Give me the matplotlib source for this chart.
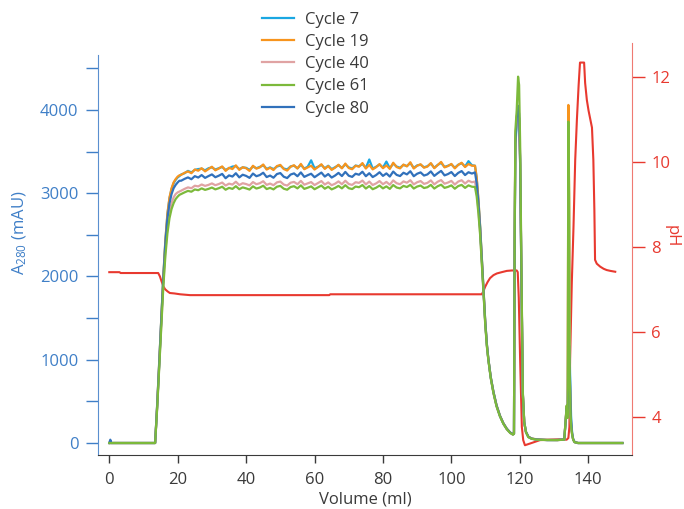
import matplotlib
matplotlib.use("Agg")
import matplotlib.pyplot as plt
from matplotlib.ticker import MultipleLocator

plt.rcParams['font.family'] = ['Open Sans', 'DejaVu Sans']
plt.rcParams['mathtext.fontset'] = 'custom'
plt.rcParams['mathtext.rm'] = 'Open Sans'
plt.rcParams['mathtext.it'] = 'Open Sans:italic'

# ---- data ----
cycles = ['Cycle 7', 'Cycle 19', 'Cycle 40', 'Cycle 61', 'Cycle 80']
colors = ['#1aa7e2', '#f7941d', '#e0a3a3', '#7cb93b', '#3171bb']

# loading phase
vol_rise = [0, 0.3, 0.6, 13.4, 14.0, 14.6, 15.2, 15.8, 16.4, 17.0, 17.6, 18.2, 18.8, 19.4, 20.0, 20.5]
rise_c7 = [0, 0, 0, 0, 460, 965, 1495, 2000, 2430, 2750, 2940, 3050, 3120, 3160, 3190, 3205]
rise_c19 = [0, 0, 0, 0, 460, 970, 1500, 2010, 2440, 2760, 2950, 3060, 3130, 3170, 3200, 3215]
rise_c40 = [0, 0, 0, 0, 430, 920, 1430, 1920, 2310, 2590, 2770, 2880, 2950, 2990, 3010, 3020]
rise_c61 = [0, 0, 0, 0, 420, 900, 1400, 1880, 2250, 2520, 2700, 2810, 2880, 2930, 2960, 2980]
rise_c80 = [0, 40, 0, 0, 450, 950, 1480, 1980, 2400, 2700, 2880, 2990, 3060, 3100, 3130, 3150]

# plateau, one reading per ml from 21 to 106 ml
vol_plateau = list(range(21, 107))
plat_c7 = [3225, 3240, 3268, 3250, 3280, 3290, 3295, 3275, 3300, 3310,
           3285, 3300, 3315, 3280, 3300, 3320, 3325, 3290, 3310, 3305,
           3280, 3320, 3300, 3316, 3336, 3292, 3310, 3290, 3320, 3332,
           3296, 3286, 3322, 3330, 3300, 3340, 3296, 3318, 3395, 3300,
           3318, 3340, 3300, 3330, 3290, 3312, 3336, 3304, 3346, 3310,
           3296, 3332, 3324, 3352, 3304, 3405, 3296, 3318, 3344, 3308,
           3380, 3300, 3356, 3320, 3306, 3340, 3326, 3362, 3304, 3334,
           3342, 3312, 3324, 3356, 3306, 3340, 3364, 3316, 3330, 3346,
           3306, 3342, 3360, 3320, 3385, 3336]
plat_c19 = [3220, 3245, 3262, 3240, 3285, 3270, 3300, 3262, 3290, 3318,
            3275, 3296, 3322, 3268, 3305, 3290, 3335, 3280, 3312, 3300,
            3268, 3330, 3295, 3310, 3345, 3284, 3306, 3278, 3326, 3340,
            3290, 3272, 3318, 3336, 3296, 3352, 3288, 3310, 3330, 3284,
            3314, 3348, 3292, 3326, 3280, 3306, 3342, 3298, 3356, 3302,
            3288, 3330, 3318, 3362, 3296, 3340, 3286, 3312, 3350, 3300,
            3334, 3292, 3366, 3314, 3298, 3344, 3322, 3372, 3296, 3330,
            3348, 3306, 3320, 3362, 3300, 3338, 3376, 3310, 3326, 3352,
            3298, 3340, 3366, 3314, 3350, 3330]
plat_c40 = [3030, 3052, 3070, 3060, 3090, 3082, 3105, 3088, 3100, 3118,
            3096, 3110, 3128, 3092, 3115, 3104, 3138, 3098, 3120, 3110,
            3094, 3134, 3108, 3120, 3144, 3100, 3116, 3096, 3130, 3140,
            3104, 3092, 3126, 3136, 3108, 3148, 3102, 3118, 3134, 3098,
            3122, 3146, 3104, 3130, 3096, 3114, 3142, 3108, 3150, 3110,
            3100, 3132, 3124, 3152, 3106, 3140, 3098, 3118, 3146, 3108,
            3136, 3102, 3154, 3120, 3108, 3142, 3126, 3156, 3106, 3132,
            3146, 3112, 3124, 3154, 3106, 3138, 3158, 3114, 3128, 3148,
            3104, 3140, 3156, 3116, 3150, 3132]
plat_c61 = [2990, 3010, 3028, 3018, 3045, 3036, 3058, 3040, 3052, 3068,
            3046, 3060, 3078, 3042, 3064, 3052, 3084, 3048, 3070, 3058,
            3044, 3082, 3056, 3068, 3090, 3050, 3064, 3046, 3078, 3088,
            3054, 3042, 3074, 3084, 3058, 3094, 3052, 3066, 3082, 3048,
            3070, 3092, 3054, 3078, 3046, 3064, 3088, 3058, 3096, 3060,
            3050, 3080, 3072, 3098, 3056, 3086, 3048, 3066, 3092, 3058,
            3082, 3052, 3098, 3068, 3058, 3088, 3074, 3100, 3056, 3080,
            3092, 3062, 3072, 3100, 3056, 3084, 3102, 3064, 3076, 3094,
            3054, 3086, 3100, 3064, 3094, 3078]
plat_c80 = [3150, 3172, 3190, 3168, 3205, 3188, 3218, 3184, 3206, 3226,
            3192, 3210, 3232, 3180, 3214, 3200, 3240, 3190, 3222, 3208,
            3184, 3236, 3204, 3218, 3246, 3194, 3212, 3186, 3230, 3242,
            3198, 3182, 3224, 3238, 3204, 3250, 3196, 3216, 3234, 3192,
            3220, 3248, 3200, 3230, 3188, 3212, 3244, 3206, 3256, 3210,
            3196, 3234, 3222, 3258, 3204, 3240, 3194, 3218, 3252, 3208,
            3238, 3200, 3260, 3220, 3206, 3246, 3226, 3264, 3204, 3234,
            3250, 3212, 3226, 3262, 3208, 3240, 3268, 3214, 3230, 3254,
            3206, 3244, 3266, 3218, 3252, 3236]

# wash, elution, strip, re-equilibration
vol_tail = [106.9, 107.4, 107.9, 108.4, 108.9, 109.4, 109.9, 110.4, 110.8, 111.5,
            112.3, 113.2, 114.2, 115.2, 116.2, 117.2, 118.0, 118.3, 118.5, 118.7,
            119.1, 119.5, 119.8, 120.1, 120.5, 120.9, 121.3, 121.8, 122.5, 123.5,
            125.0, 128.0, 131.0, 133.0, 133.4, 133.7, 134.0, 134.2, 134.4, 134.6,
            134.8, 135.0, 135.3, 135.6, 136.0, 137.0, 143.0, 150.0]
tail_c7 = [3330, 3180, 2920, 2600, 2210, 1840, 1455, 1175, 1012, 792,
           612, 452, 326, 236, 170, 125, 105, 112, 2380, 3550,
           3850, 3980, 3900, 3350, 1880, 570, 245, 132, 74, 52,
           42, 36, 36, 42, 270, 430, 330, 1500, 900, 1000,
           650, 300, 120, 45, 12, 0, 0, 0]
tail_c19 = [3330, 3190, 2930, 2610, 2215, 1845, 1460, 1178, 1014, 794,
            614, 454, 328, 238, 172, 126, 106, 114, 2420, 3620,
            3920, 4020, 3880, 3350, 1890, 575, 248, 134, 76, 54,
            44, 38, 36, 42, 270, 440, 330, 4060, 3100, 850,
            420, 210, 105, 45, 12, 0, 0, 0]
tail_c40 = [3140, 3020, 2800, 2530, 2170, 1810, 1430, 1155, 1002, 782,
            602, 442, 322, 232, 166, 121, 101, 110, 2450, 3650,
            3880, 4000, 3900, 3450, 1950, 590, 250, 132, 72, 51,
            41, 35, 35, 41, 275, 440, 310, 3600, 2900, 780,
            390, 195, 100, 42, 10, 0, 0, 0]
tail_c61 = [3075, 2960, 2760, 2500, 2150, 1800, 1420, 1150, 1000, 780,
            600, 440, 320, 230, 165, 120, 100, 110, 2500, 3750,
            4000, 4400, 4300, 3600, 2000, 600, 250, 130, 70, 50,
            40, 35, 35, 40, 280, 450, 300, 3860, 3000, 800,
            400, 200, 100, 40, 10, 0, 0, 0]
tail_c80 = [3250, 3120, 2880, 2580, 2200, 1830, 1450, 1170, 1010, 790,
            610, 450, 325, 235, 170, 125, 105, 112, 2400, 3600,
            3900, 4050, 3950, 3400, 1900, 580, 250, 135, 75, 52,
            42, 36, 36, 42, 260, 420, 320, 900, 1170, 900,
            500, 250, 110, 45, 12, 0, 0, 0]

# pH trace
vol_ph = [0, 3.0, 3.3, 14.3, 14.8, 15.3, 15.8, 16.3, 17.0, 17.7,
          19.0, 20.7, 23.6, 64.3, 64.6, 108.9, 109.4, 109.9, 110.6, 111.3,
          112.3, 113.3, 114.7, 116.2, 117.7, 119.1, 119.4, 119.7, 120.1, 120.6,
          121.0, 121.5, 123.0, 125.9, 131.8, 133.7, 134.2, 134.5, 134.7, 135.2,
          135.7, 136.2, 136.7, 137.2, 137.6, 138.8, 139.1, 139.6, 140.1, 140.6,
          141.1, 141.5, 141.8, 142.0, 142.5, 143.5, 144.5, 145.4, 146.5, 147.9]
ph = [7.40, 7.40, 7.38, 7.38, 7.30, 7.18, 7.07, 7.00, 6.95, 6.91,
      6.90, 6.88, 6.86, 6.86, 6.88, 6.88, 6.96, 7.06, 7.17, 7.26,
      7.33, 7.37, 7.40, 7.43, 7.44, 7.44, 7.40, 6.80, 5.33, 3.76,
      3.45, 3.33, 3.37, 3.45, 3.47, 3.46, 3.50, 3.76, 5.33, 7.14,
      8.47, 10.04, 11.00, 11.80, 12.33, 12.33, 11.85, 11.45, 11.20, 11.00,
      10.80, 10.04, 8.86, 7.69, 7.60, 7.53, 7.48, 7.45, 7.43, 7.41]

blue = '#3f7fc7'
red = '#e8392f'
dark = '#3a3a3a'

fig = plt.figure(figsize=(6.84, 5.09), dpi=100)
ax = fig.add_axes([98 / 684, 1 - 455 / 509, (632 - 98) / 684, (455 - 43) / 509])
ax2 = ax.twinx()
ax.set_zorder(ax2.get_zorder() + 1)
ax.patch.set_visible(False)

vol_all = vol_rise + vol_plateau + vol_tail
series = {
    'Cycle 7': rise_c7 + plat_c7 + tail_c7,
    'Cycle 19': rise_c19 + plat_c19 + tail_c19,
    'Cycle 40': rise_c40 + plat_c40 + tail_c40,
    'Cycle 61': rise_c61 + plat_c61 + tail_c61,
    'Cycle 80': rise_c80 + plat_c80 + tail_c80,
}
handles = {}
for name in ['Cycle 7', 'Cycle 19', 'Cycle 40', 'Cycle 80', 'Cycle 61']:
    c = colors[cycles.index(name)]
    line, = ax.plot(vol_all, series[name], color=c, lw=1.6, label=name)
    handles[name] = line

ax2.plot(vol_ph, ph, color=red, lw=1.5)

ax.set_xlim(-3.3, 152.8)
ax.set_ylim(-144, 4804)
ax2.set_ylim(3.10, 12.79)

ax.set_xticks([0, 20, 40, 60, 80, 100, 120, 140])
ax.set_yticks([0, 1000, 2000, 3000, 4000])
ax.yaxis.set_minor_locator(MultipleLocator(500))
ax2.set_yticks([4, 6, 8, 10, 12])

for s in ['top', 'right']:
    ax.spines[s].set_visible(False)
for s in ['top', 'left', 'bottom']:
    ax2.spines[s].set_visible(False)
ax.spines['left'].set_color('#5a8fcf')
ax.spines['left'].set_bounds(-144, 4660)
ax.spines['bottom'].set_color(dark)
ax2.spines['right'].set_color('#ef7a72')

ax.tick_params(axis='x', colors=dark, length=6, width=1, labelsize=12, pad=6)
ax.tick_params(axis='y', which='both', colors=blue, length=9, width=1, labelsize=12, pad=5)
ax2.tick_params(axis='y', colors=red, length=9, width=1, labelsize=12, pad=5)

ax.set_xlabel('Volume (ml)', fontsize=12, color=dark, labelpad=3)
ax.set_ylabel('A$_{280}$ (mAU)', fontsize=12, color=blue, va='center', ha='center')
ax.yaxis.set_label_coords(-0.146, 0.54)
ax2.set_ylabel('pH', fontsize=12, color=red, rotation=270, va='center', ha='center')
ax2.yaxis.set_label_coords(1.074, 0.53)

leg = ax.legend(handles=[handles[n] for n in cycles], loc='upper left',
                bbox_to_anchor=(262 / 684, 1 - 12 / 509), bbox_transform=fig.transFigure,
                frameon=False, borderpad=0, borderaxespad=0, handlelength=1.9,
                handletextpad=0.7, labelspacing=0.37, fontsize=12)
for t in leg.get_texts():
    t.set_color(dark)

fig.savefig('out.png', dpi=100)
